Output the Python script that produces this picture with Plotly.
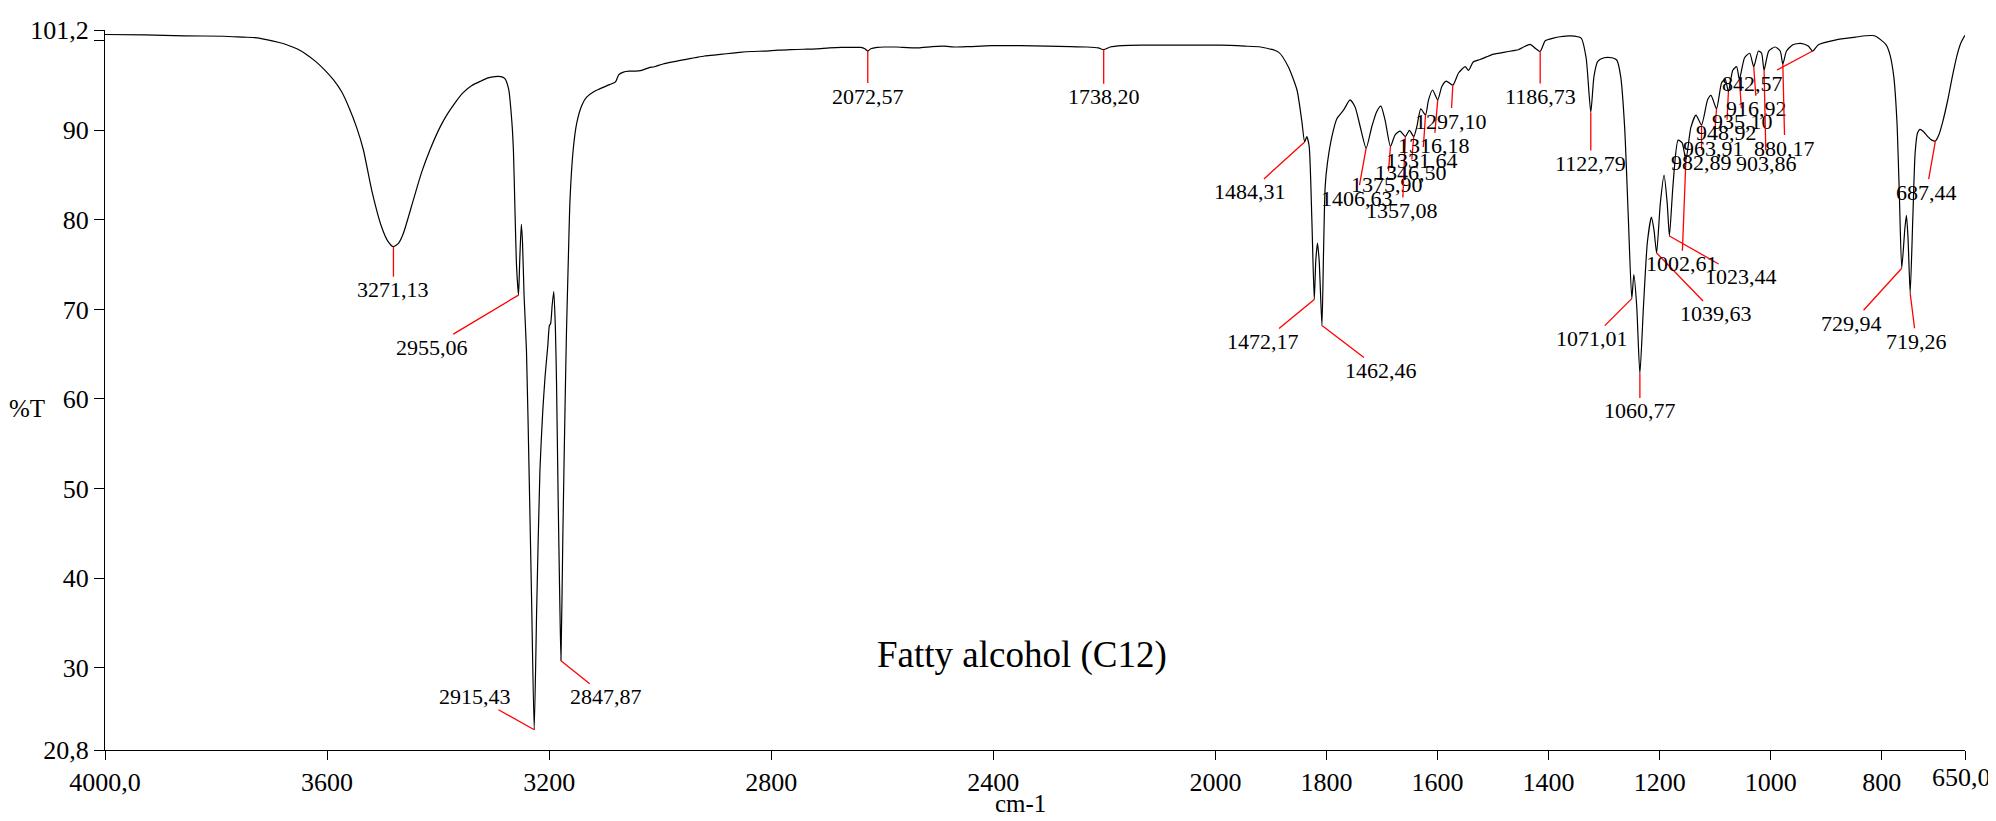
import plotly.graph_objects as go

# ---------------- data ----------------
WAVENUMBER = [
    4000, 3900, 3800, 3700, 3650, 3621, 3589, 3560, 3541, 3515, 3492, 3468, 3444, 3422, 3402, 3383,
    3364, 3347, 3326, 3301, 3285, 3271, 3258, 3246, 3221, 3200, 3179, 3154, 3135, 3115, 3095, 3073,
    3050, 3032, 3015, 3000, 2990, 2980, 2972, 2968, 2964, 2960, 2955.06, 2952, 2948, 2945, 2941, 2935,
    2928, 2922, 2915.43, 2909, 2901, 2894, 2888, 2881, 2877, 2874, 2870, 2866, 2862, 2859, 2855, 2851,
    2847.87, 2843, 2838, 2834, 2829, 2825, 2817, 2808, 2795, 2783, 2765, 2751, 2725, 2710, 2702, 2690,
    2676, 2660, 2644, 2625, 2612, 2590, 2558, 2535, 2510, 2485, 2461, 2430, 2397, 2365, 2332, 2300,
    2268, 2235, 2203, 2170, 2139, 2110, 2090, 2080, 2072.57, 2065, 2049, 2030, 2011, 2000,
    1973, 1955, 1941, 1925, 1908, 1880, 1844, 1810, 1780, 1760, 1745, 1738.20, 1730, 1715, 1690, 1651,
    1620, 1591, 1560, 1540, 1517, 1505, 1494, 1488, 1484.31, 1481.6, 1478.6, 1475.2, 1472.17, 1470.2,
    1468.1, 1466, 1462.46, 1460.5, 1458.4, 1455.6, 1449.9, 1443.6, 1435.2, 1426.9, 1420.6, 1414.1,
    1406.63, 1399.5, 1393.2, 1388, 1382.6, 1375.9, 1370, 1363.7, 1357.08, 1351.9, 1346.5, 1342.6,
    1337.6, 1331.64, 1327.8, 1322.7, 1316.18, 1311, 1305.5, 1297.1, 1289.9, 1281.5, 1277.3, 1271.1,
    1262.5, 1254.4, 1245.7, 1233, 1220.4, 1214.2, 1207.7, 1199.3, 1192.9, 1186.73, 1180.3, 1169.9,
    1161.5, 1148, 1135, 1128.7, 1122.79, 1118.8, 1114, 1106, 1096, 1090, 1085, 1080, 1075.4, 1071.01,
    1068.4, 1064.8, 1060.77, 1056.2, 1051.3, 1046.2, 1043, 1039.63, 1035, 1030.2, 1026.2, 1023.44,
    1018.9, 1012.5, 1007.4, 1002.61, 996.4, 989.9, 982.89, 975.2, 970.9, 963.91, 957.5, 952.9, 948.92,
    943.4, 938.5, 935.1, 928.5, 922, 916.92, 911, 907, 903.86, 898, 890, 883.5, 880.17, 875.5, 867.5,
    857.7, 848, 842.57, 835.2, 812.8, 788.4, 775.6, 764.3, 756.3, 749.8, 745, 740, 736, 733, 729.94,
    726, 724, 722, 719.26, 716, 713, 710, 707, 703, 697, 692, 687.44, 683, 678, 672, 666, 660, 655, 650,
]
TRANSMITTANCE = [
    100.7, 100.65, 100.55, 100.5, 100.4, 100.35, 100.1, 99.8, 99.55, 99.1, 98.5, 97.7, 96.7, 95.6, 94.3, 92.5,
    90.3, 87.8, 83.3, 79.2, 77.6, 77.0, 77.4, 78.5, 82.2, 85.3, 87.8, 90.3, 91.8, 93.1, 94.2, 95.0,
    95.5, 95.85, 96.0, 96.0, 95.8, 94.6, 91.0, 87.8, 81.0, 74.8, 71.6, 75.5, 79.5, 77.5, 71.5, 65.4,
    51.0, 37.5, 23.06, 37.0, 52.0, 58.5, 62.5, 66.0, 68.2, 68.4, 70.5, 72.0, 68.0, 61.7, 49.0, 38.0,
    30.76, 45.0, 58.0, 67.3, 76.0, 82.2, 87.8, 90.8, 92.8, 93.7, 94.3, 94.6, 95.1, 95.4, 96.2, 96.5,
    96.6, 96.6, 96.7, 97.0, 97.1, 97.4, 97.7, 97.9, 98.1, 98.3, 98.4, 98.55, 98.7, 98.8, 98.85, 98.95,
    99.0, 99.05, 99.1, 99.2, 99.25, 99.25, 99.25, 99.1, 98.85, 99.1, 99.25, 99.3, 99.3, 99.3,
    99.2, 99.35, 99.4, 99.3, 99.35, 99.45, 99.45, 99.4, 99.35, 99.3, 99.2, 99.0, 99.3, 99.45, 99.5, 99.5,
    99.5, 99.5, 99.4, 99.3, 98.7, 97.1, 94.5, 91.1, 88.7, 89.3, 88.2, 80.0, 71.1, 75.5,
    77.4, 75.5, 68.2, 76.2, 83.7, 86.3, 89.3, 91.3, 92.25, 93.4, 92.6, 90.4,
    88.0, 90.4, 92.1, 92.7, 91.1, 88.2, 89.5, 89.9, 89.3, 90.0, 89.3, 90.4,
    92.4, 91.7, 93.4, 94.5, 93.4, 94.9, 95.5, 95.05, 96.4, 97.1, 96.7, 97.65,
    97.9, 98.2, 98.5, 98.7, 98.9, 99.0, 99.3, 99.6, 99.15, 98.8, 100.0, 100.3,
    100.45, 100.55, 100.3, 98.1, 92.0, 96.0, 97.7, 98.1, 98.1, 97.85, 96.0, 90.3, 80.3, 71.2,
    73.9, 70.4, 62.8, 70.4, 77.5, 80.3, 78.9, 76.3, 81.8, 85.0, 81.8, 78.2,
    83.9, 88.9, 88.6, 86.7, 90.3, 91.7, 90.6, 93.4, 93.9, 92.4, 95.3, 95.7, 94.3,
    96.7, 97.1, 95.7, 98.1, 98.6, 97.1, 98.85, 98.6, 96.7, 98.85, 99.3, 98.85, 97.4, 98.85, 99.56,
    99.7, 99.4, 98.85, 99.56, 100.1, 100.4, 100.56, 100.56, 100.1, 99.56, 98.5, 96.0, 91.0, 83.0, 74.6,
    79.0, 80.5, 78.0, 71.8, 80.0, 87.5, 89.7, 90.1, 89.9, 89.3, 88.9, 88.8, 89.5, 91.0, 93.3, 96.0, 98.4, 99.8, 100.6,
]

PEAK_WN = [3271.13, 2955.06, 2915.43, 2847.87, 2072.57, 1738.20, 1484.31, 1472.17, 1462.46,
           1406.63, 1375.90, 1357.08, 1346.50, 1331.64, 1316.18, 1297.10, 1186.73, 1122.79,
           1071.01, 1060.77, 1039.63, 1023.44, 1002.61, 982.89, 963.91, 948.92, 935.10, 916.92,
           903.86, 880.17, 842.57, 729.94, 719.26, 687.44]
PEAK_T = [77.0, 71.6, 23.06, 30.76, 98.85, 99.0, 88.7, 71.1, 68.2,
          88.0, 88.2, 89.3, 89.3, 91.7, 93.4, 95.05, 98.8, 92.0,
          71.2, 62.8, 76.3, 78.2, 86.7, 90.6, 92.4, 94.3, 95.7, 97.1,
          96.7, 97.4, 98.85, 74.6, 71.8, 88.8]

X_TICK_VALUES = [4000, 3600, 3200, 2800, 2400, 2000, 1800, 1600, 1400, 1200, 1000, 800, 650]
X_TICK_TEXT = ["4000,0", "3600", "3200", "2800", "2400", "2000", "1800", "1600", "1400",
               "1200", "1000", "800", "650,0"]
Y_TICK_VALUES = [20.8, 30, 40, 50, 60, 70, 80, 90, 100, 101.2]
Y_TICK_TEXT = ["20,8", "30", "40", "50", "60", "70", "80", "90", "", "101,2"]

SAMPLE_NAME = "Fatty alcohol (C12)"
X_TITLE = "cm-1"
Y_TITLE = "%T"

# ---------------- label placement (pixel offsets of each peak label) ----------------
LABEL_OFFSETS = [(0, 43), (-87, 52), (-59, -33), (45, 36), (0, 45), (0, 47), (-55, 50), (-51, 42),
                 (59, 45), (-9, 50), (-3, 38), (-3, 74), (-3, 36), (-3, 45), (-4, 46), (-2, 36),
                 (0, 45), (0, 51), (-40, 40), (0, 37), (59, 61), (72, 41), (-4, 104), (0, 38),
                 (-3, 40), (-2, 41), (3, 42), (3, 42), (2, 93), (2, 84), (-60, 32), (-50, 55),
                 (6, 48), (-9, 51)]

# Spectrometer display scale: 2x expansion below 2000 cm-1
WN_MAX, WN_BREAK, WN_MIN = 4000, 2000, 650
SPAN = (WN_MAX - WN_BREAK) + 2 * (WN_BREAK - WN_MIN)


def axis_pos(wn):
    if wn >= WN_BREAK:
        return WN_MAX - wn
    return (WN_MAX - WN_BREAK) + 2 * (WN_BREAK - wn)


# the reference's tick labels are laid out linearly over the full width
tick_pos = [(WN_MAX - v) / (WN_MAX - WN_MIN) * SPAN for v in X_TICK_VALUES]
# the last label sits against the right edge, so it is drawn as right-anchored text
tick_text_axis = X_TICK_TEXT[:-1] + [""]

FONT = "Liberation Serif"
TICK_SIZE = 26

# page body has an 8 px margin: the figure is sized so it fills the 1996x821 window
FIG_W, FIG_H = 1988, 813
M_L, M_R, M_T, M_B = 97, 31, 22, 71
PLOT_W = FIG_W - M_L - M_R

fig = go.Figure()
fig.add_trace(go.Scatter(
    x=[axis_pos(w) for w in WAVENUMBER], y=TRANSMITTANCE, mode="lines",
    line=dict(color="black", width=1.2, shape="spline", smoothing=0.6),
    hoverinfo="skip", showlegend=False,
))

annotations = []
for wn, t, (dx, dy) in zip(PEAK_WN, PEAK_T, LABEL_OFFSETS):
    annotations.append(dict(
        x=axis_pos(wn), y=t, xref="x", yref="y",
        text=f"{wn:.2f}".replace(".", ","), showarrow=True,
        arrowhead=0, arrowcolor="red", arrowwidth=1.3, standoff=0, ax=dx, ay=dy,
        font=dict(family=FONT, size=22, color="black"), borderpad=0,
    ))
annotations.append(dict(x=0.493, y=0.10, xref="paper", yref="paper", text=SAMPLE_NAME,
                        showarrow=False, xanchor="center", yanchor="bottom",
                        font=dict(family=FONT, size=37, color="black")))
annotations.append(dict(x=-0.042, y=0.475, xref="paper", yref="paper", text=Y_TITLE,
                        showarrow=False, xanchor="center", yanchor="middle",
                        font=dict(family=FONT, size=25, color="black")))
annotations.append(dict(x=0.492, y=-0.074, xref="paper", yref="paper", text=X_TITLE,
                        showarrow=False, xanchor="center", yanchor="middle",
                        font=dict(family=FONT, size=25, color="black")))
annotations.append(dict(x=(FIG_W - M_L - 3) / PLOT_W, y=0, xref="paper", yref="paper",
                        text=X_TICK_TEXT[-1], showarrow=False, xanchor="right", yanchor="top",
                        yshift=-11, font=dict(family=FONT, size=TICK_SIZE, color="black")))

fig.update_layout(
    width=FIG_W, height=FIG_H,
    margin=dict(l=M_L, r=M_R, t=M_T, b=M_B, autoexpand=False),
    paper_bgcolor="white", plot_bgcolor="white",
    annotations=annotations,
    font=dict(family=FONT, size=TICK_SIZE, color="black"),
)
fig.update_xaxes(range=[0, SPAN], tickvals=tick_pos, ticktext=tick_text_axis, showline=True,
                 linecolor="black", linewidth=1.3, ticks="outside", ticklen=9, tickcolor="black",
                 tickwidth=1.3, showgrid=False, zeroline=False, automargin=False,
                 tickfont=dict(family=FONT, size=TICK_SIZE))
fig.update_yaxes(range=[20.8, 101.2], tickvals=Y_TICK_VALUES, ticktext=Y_TICK_TEXT, showline=True,
                 linecolor="black", linewidth=1.3, ticks="outside", ticklen=10, tickcolor="black",
                 tickwidth=1.3, showgrid=False, zeroline=False, automargin=False,
                 tickfont=dict(family=FONT, size=TICK_SIZE))

fig.write_html("out.html")
